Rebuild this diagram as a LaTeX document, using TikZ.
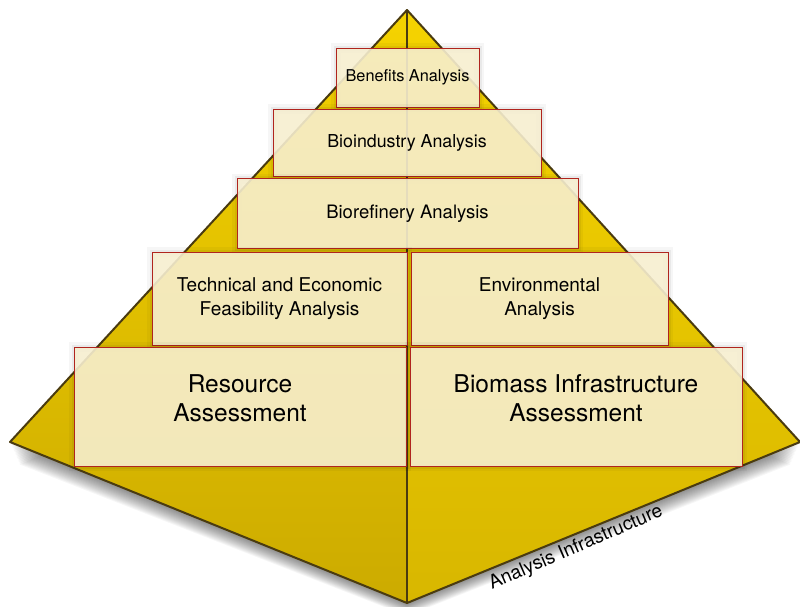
\documentclass[tikz,border=0pt]{standalone}
\usepackage{fontspec}
\setmainfont{TeX Gyre Heros}
\definecolor{edgec}{HTML}{4A3B10}
\definecolor{boxred}{HTML}{B0241E}
\definecolor{cream}{HTML}{F6EECF}
\definecolor{goldtop}{HTML}{F5D300}
\definecolor{goldleft}{HTML}{CCAB00}
\definecolor{goldright}{HTML}{D8B700}
\begin{document}
\begin{tikzpicture}[x=1pt,y=-1pt,
  box/.style={draw=boxred, line width=1pt, fill=cream, fill opacity=0.9, text opacity=1,
    align=center, inner sep=0pt,
    preaction={draw=black, draw opacity=0.035, line width=10pt},
    preaction={draw=black, draw opacity=0.05, line width=5pt}},
  lbl/.style={align=center, inner sep=0pt}]
\useasboundingbox (0,0) rectangle (800,606);
% shadow
\foreach \k in {1,...,16}
  \fill[black, opacity=0.035] (10+\k*0.6, 442+\k*1.4) -- (407, 603+\k*0.8) -- (800-\k*0.6, 442+\k*1.4) -- (407,300) -- cycle;
\coordinate (apex) at (407,10);
\coordinate (L) at (10,442);
\coordinate (B) at (407,603);
\coordinate (R) at (800,442);
\shade[top color=goldtop, bottom color=goldleft] (apex) -- (L) -- (B) -- cycle;
\shade[top color=goldtop, bottom color=goldright] (apex) -- (R) -- (B) -- cycle;
\draw[edgec, line width=2pt, line join=round] (apex) -- (L) -- (B) -- (R) -- cycle;
\draw[edgec, line width=2pt] (apex) -- (B);
% boxes
\node[box, minimum width=143pt, minimum height=59pt, font=\fontsize{16.3}{19}\selectfont] (ben) at (407.5,77.5) {Benefits Analysis};
\node[box, minimum width=268pt, minimum height=67pt, font=\fontsize{17.8}{21}\selectfont] (bioind) at (407,142.5) {Bioindustry Analysis};
\node[box, minimum width=341pt, minimum height=70pt, font=\fontsize{18.5}{22}\selectfont] (bioref) at (407.5,213.5) {Biorefinery Analysis};
\node[box, minimum width=255pt, minimum height=93pt, font=\fontsize{19}{23.5}\selectfont] (tech) at (279.5,298.5) {Technical and Economic\\Feasibility Analysis};
\node[box, minimum width=257pt, minimum height=93pt, font=\fontsize{19}{23.5}\selectfont] (env) at (539.5,298.5) {Environmental\\Analysis};
\node[box, minimum width=332pt, minimum height=119pt] (res) at (240,406.5) {};
\node[box, minimum width=332pt, minimum height=119pt] (bio) at (576,406.5) {};
\node[lbl, font=\fontsize{24.5}{29}\selectfont] (resT) at ([yshift=8pt]res.center) {Resource\\Assessment};
\node[lbl, font=\fontsize{24.5}{29}\selectfont] (bioT) at ([yshift=8pt]bio.center) {Biomass Infrastructure\\Assessment};
\node[lbl, rotate=23.5, font=\fontsize{19}{22}\selectfont] (ai) at (576,548) {Analysis Infrastructure};
\end{tikzpicture}
\end{document}
